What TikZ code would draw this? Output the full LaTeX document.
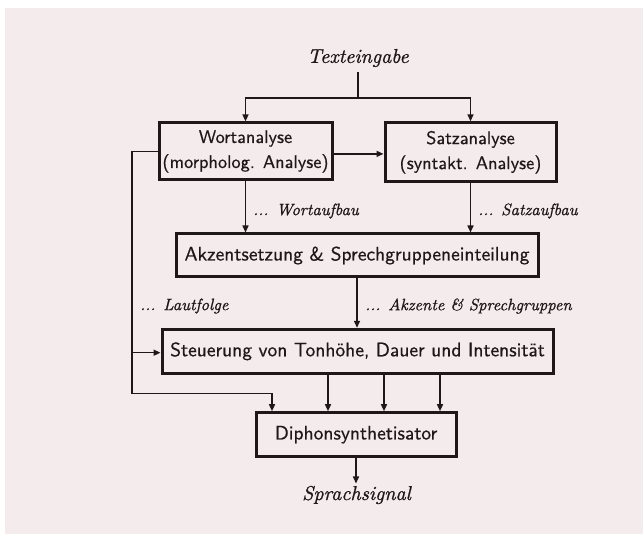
\documentclass[tikz,border=0pt]{standalone}
\usepackage{fontspec}
\newfontfamily\boxfont{lmsans10-regular}[Extension=.otf,FakeBold=0.6]
\newfontfamily\labfont{lmroman10-italic}[Extension=.otf,FakeBold=0.9]
\usetikzlibrary{arrows.meta}
\definecolor{bg}{HTML}{F4ECEC}
\definecolor{ink}{HTML}{1E1818}
\begin{document}
\begin{tikzpicture}[x=1pt,y=-1pt,
  box/.style={draw=ink,line width=3pt,text=ink,inner sep=0pt,font=\boxfont\fontsize{19.5}{25}\selectfont,align=center},
  smallbox/.style={box,font=\boxfont\fontsize{18.3}{25}\selectfont},
  lab/.style={text=ink,inner sep=0pt,font=\labfont\fontsize{20}{24}\selectfont},
  slab/.style={lab,font=\labfont\fontsize{16.5}{20}\selectfont},
  line/.style={draw=ink,line width=1.5pt},
  arr/.style={line,-{Triangle[length=7pt,width=6pt]}}]
\fill[white] (0,0) rectangle (643,534);
\fill[bg] (5,8) rectangle (643,534);
\useasboundingbox (0,0) rectangle (643,534);
% nodes
\node[lab] (tex) at (358,58) {Texteingabe};
\node[smallbox,minimum width=173pt,minimum height=57pt] (wort) at (245.5,151.4) {Wortanalyse\\(morpholog. Analyse)};
\node[smallbox,minimum width=171pt,minimum height=59pt] (satz) at (470.5,152.3) {Satzanalyse\\(syntakt. Analyse)};
\node[box,minimum width=362pt,minimum height=43pt] (akz) at (357,255.5) {Akzentsetzung \& Sprechgruppeneinteilung};
\node[box,minimum width=391pt,minimum height=44pt] (steu) at (357.5,351.3) {Steuerung von Tonhöhe, Dauer und Intensität};
\node[box,minimum width=200pt,minimum height=44pt] (diph) at (356,434.7) {Diphonsynthetisator};
\node[lab] (sig) at (356.5,495) {Sprachsignal};
\node[slab,anchor=west] (lwort) at (253,211) {... Wortaufbau};
\node[slab,anchor=west] (lsatz) at (478,211) {... Satzaufbau};
\node[slab,anchor=west] (llaut) at (140,306) {... Lautfolge};
\node[slab,anchor=west] (lakz) at (365,306) {... Akzente \& Sprechgruppen};
% coordinates
\coordinate (sp) at (358,98);
\coordinate (lt) at (132,151.4);
\coordinate (lm) at (132,352.7);
\coordinate (lb) at (132,393.3);
% connectors
\draw[line] (358,72) -- (sp);
\draw[arr] (sp) -| (wort.north);
\draw[arr] (sp) -| (satz.north);
\draw[arr] ([yshift=-2.5pt]wort.east) -- ([yshift=-2.5pt]wort.east -| satz.west);
\draw[arr] (wort.south) -- (wort.south |- akz.north);
\draw[arr] (satz.south) -- (satz.south |- akz.north);
\draw[arr] (akz.south) -- (akz.south |- steu.north);
\draw[arr] (wort.west) -- (lt) -- (lb) -| ([xshift=-84pt]diph.north);
\draw[arr] (lm) -- (lm -| steu.west);
\draw[arr] ([xshift=-28pt]diph.north |- steu.south) -- ([xshift=-28pt]diph.north);
\draw[arr] ([xshift=28pt]diph.north |- steu.south) -- ([xshift=28pt]diph.north);
\draw[arr] ([xshift=84pt]diph.north |- steu.south) -- ([xshift=84pt]diph.north);
\draw[arr] (diph.south) -- (356,483.5);
\end{tikzpicture}
\end{document}
